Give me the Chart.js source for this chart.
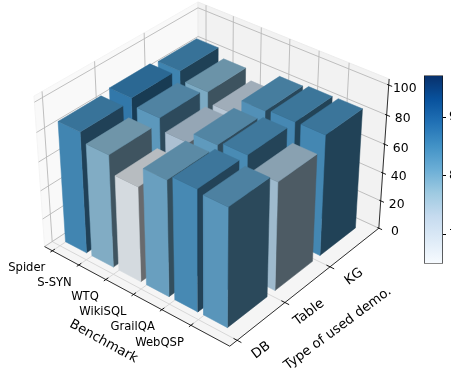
<!DOCTYPE html>
<html><head><meta charset="utf-8"><script src="https://cdn.jsdelivr.net/npm/chart.js@4"></script>
<style>html,body{margin:0;padding:0;background:#fff;overflow:hidden;width:451px;height:375px}
#main{position:absolute;left:0;top:0}
#cb{position:absolute;left:418px;top:65px}
</style></head><body><canvas id="main" width="451" height="375"></canvas><canvas id="cb" width="60" height="209"></canvas>
<script>
const benchmarks=['Spider','S-SYN','WTQ','WikiSQL','GrailQA','WebQSP'];
const demoTypes=['DB','Table','KG'];
const dbScores=[84.3,78.0,66.0,80.1,83.7,81.7];
const tableScores=[86.2,81.3,73.3,81.0,83.4,74.9];
const kgScores=[84.5,78.4,71.1,82.5,83.8,84.0];
const zTicks=[0,20,40,60,80,100];
const colorbarTicks=[70,80,90];
const colorMin=65.1,colorMax=97.1;
const blues=[[247,251,255],[222,235,247],[198,219,239],[158,202,225],[107,174,214],[66,146,198],[33,113,181],[8,81,156],[8,48,107]];

const xLim=[-0.3,6.3],yLim=[-0.15,3.15],zLim=[0,104];
const barW=0.8,barD=0.83,barX=-0.013,barY=0.116;
const FONT='"DejaVu Sans"';
const cam={az:-50.26*Math.PI/180,el:34.17*Math.PI/180,bx:1.19,bz:0.8806,dist:8.14,S:1672.9,cx:212.97,cy:164.66};
const w=[Math.cos(cam.el)*Math.cos(cam.az),Math.cos(cam.el)*Math.sin(cam.az),Math.sin(cam.el)];
const eye=[cam.bx/2+cam.dist*w[0],cam.bx/2+cam.dist*w[1],cam.bz/2+cam.dist*w[2]];
const un=Math.hypot(w[0],w[1]);const u=[-w[1]/un,w[0]/un,0];
const v=[w[1]*u[2]-w[2]*u[1],w[2]*u[0]-w[0]*u[2],w[0]*u[1]-w[1]*u[0]];
function project(x,y,z){
  const q=[(x-xLim[0])/(xLim[1]-xLim[0])*cam.bx-eye[0],(y-yLim[0])/(yLim[1]-yLim[0])*cam.bx-eye[1],(z-zLim[0])/(zLim[1]-zLim[0])*cam.bz-eye[2]];
  const d=a=>a[0]*q[0]+a[1]*q[1]+a[2]*q[2];const zc=-d(w);
  return {x:d(u)/zc,y:d(v)/zc};
}
function bluesAt(t){t=Math.max(0,Math.min(1,t))*8;const i=Math.min(7,Math.floor(t)),f=t-i;return blues[i].map((c,k)=>c+(blues[i+1][k]-c)*f);}
const rgb=(c,k)=>`rgb(${c.map(a=>Math.round(a*k)).join(',')})`;

const layers=[];
function poly(pts,fill,edge,lw){layers.push({data:pts.map(p=>project(p[0],p[1],p[2])),fill:'shape',backgroundColor:fill,borderColor:edge||fill,borderWidth:lw===undefined?0.5:lw,pointRadius:0,tension:0});}
function seg(a,b,color,lw){layers.push({data:[project(a[0],a[1],a[2]),project(b[0],b[1],b[2])],fill:false,borderColor:color,borderWidth:lw,pointRadius:0,tension:0});}
const [x0,x1]=xLim,[y0,y1]=yLim,[z0,z1]=zLim;
poly([[x0,y0,z0],[x0,y1,z0],[x0,y1,z1],[x0,y0,z1],[x0,y0,z0]],'#f9f9f9','#f4f4f4',1);
poly([[x0,y1,z0],[x1,y1,z0],[x1,y1,z1],[x0,y1,z1],[x0,y1,z0]],'#f2f2f2','#ececec',1);
poly([[x0,y0,z0],[x1,y0,z0],[x1,y1,z0],[x0,y1,z0],[x0,y0,z0]],'#f5f5f5','#f0f0f0',1);
const GRID='#b8b8b8';
benchmarks.forEach((_,i)=>{seg([i,y0,z0],[i,y1,z0],'#d4d4d4',0.9);seg([i,y1,z0],[i,y1,z1],GRID,0.9);});
demoTypes.forEach((_,j)=>{seg([x0,j,z0],[x1,j,z0],'#d4d4d4',0.9);seg([x0,j,z0],[x0,j,z1],GRID,0.9);});
zTicks.forEach(z=>{seg([x0,y0,z],[x0,y1,z],GRID,0.9);seg([x0,y1,z],[x1,y1,z],GRID,0.9);});
seg([x0,y0,z0],[x1,y0,z0],'#1a1a1a',0.9);
seg([x1,y0,z0],[x1,y1,z0],'#1a1a1a',0.9);
seg([x1,y1,z0],[x1,y1,z1],'#1a1a1a',0.9);
benchmarks.forEach((_,i)=>seg([i,y0-0.04,z0],[i,y0+0.05,z0],'#000',0.9));
demoTypes.forEach((_,j)=>seg([x1-0.12,j,z0],[x1+0.14,j,z0],'#000',0.9));
zTicks.forEach(z=>seg([x1-0.05,y1,z],[x1+0.11,y1,z],'#000',0.9));

const rows=[dbScores,tableScores,kgScores];
for(let j=rows.length-1;j>=0;j--){
  rows[j].forEach((val,i)=>{
    const a=i+barX,b=a+barW,c=j+barY,d=c+barD;
    const col=bluesAt((val-colorMin)/(colorMax-colorMin));
    poly([[b,c,0],[b,d,0],[b,d,val],[b,c,val],[b,c,0]],rgb(col,0.43));
    poly([[a,c,0],[b,c,0],[b,c,val],[a,c,val],[a,c,0]],rgb(col,0.88));
    poly([[a,c,val],[b,c,val],[b,d,val],[a,d,val],[a,c,val]],rgb(col,0.76));
  });
}

const labels={id:'labels3d',afterDatasetsDraw(ch){
  const c=ch.ctx,sx=ch.scales.x,sy=ch.scales.y;
  const at=(x,y,z)=>{const p=project(x,y,z);return [sx.getPixelForValue(p.x),sy.getPixelForValue(p.y)];};
  c.save();c.fillStyle='#000';c.textBaseline='middle';
  c.font='11.6px '+FONT;c.textAlign='right';
  benchmarks.forEach((t,i)=>{const [px,py]=at(i,y0,0);c.fillText(t,px-7,py+17.5);});
  c.font='12.4px '+FONT;c.textAlign='center';
  zTicks.forEach(z=>{const [px,py]=at(x1,y1,z);c.fillText(String(z),px+16,py+4);});
  const rot=(t,px,py,deg)=>{c.save();c.translate(px,py);c.rotate(deg*Math.PI/180);c.fillText(t,0,0);c.restore();};
  c.font='13.3px '+FONT;
  demoTypes.forEach((t,j)=>{const [px,py]=at(x1,j,0);rot(t,px+24,py+10,-37);});
  const [bx,by]=at(3,y0,0);rot('Benchmark',bx-30,by+47,28.7);
  const [tx,ty]=at(x1,1.3,0);rot('Type of used demo.',tx+39,ty+37,-36.5);
  c.restore();
}};

new Chart(document.getElementById('main'),{type:'line',data:{datasets:layers.reverse()},plugins:[labels],options:{
  responsive:false,animation:false,events:[],
  layout:{padding:0},
  plugins:{legend:{display:false},tooltip:{enabled:false}},
  scales:{
    x:{type:'linear',display:false,min:(0-cam.cx)/cam.S,max:(451-cam.cx)/cam.S},
    y:{type:'linear',display:false,min:(cam.cy-375)/cam.S,max:cam.cy/cam.S}
  }}});

new Chart(document.getElementById('cb'),{type:'bar',data:{labels:[''],datasets:[{data:[[colorMin,colorMax]],barPercentage:1,categoryPercentage:1,borderWidth:1,borderColor:'#111',borderSkipped:false,
  backgroundColor(ctx){const a=ctx.chart.chartArea;if(!a)return '#fff';const g=ctx.chart.ctx.createLinearGradient(0,a.bottom,0,a.top);blues.forEach((c,i)=>g.addColorStop(i/8,rgb(c,1)));return g;}}]},
  options:{responsive:false,animation:false,events:[],layout:{padding:{left:6,top:0,bottom:0,right:0}},
  plugins:{legend:{display:false},tooltip:{enabled:false}},
  scales:{x:{display:false},
    y:{position:'right',min:colorMin,max:colorMax,grid:{drawOnChartArea:false,drawTicks:true,tickLength:3,color:'#000'},border:{display:false},
      afterBuildTicks(s){s.ticks=colorbarTicks.map(value=>({value}));},
      afterFit(s){s.width=35;},
      ticks:{color:'#000',padding:3,font:{family:'DejaVu Sans',size:12.4},callback:v=>String(v)}}}}});
</script></body></html>
